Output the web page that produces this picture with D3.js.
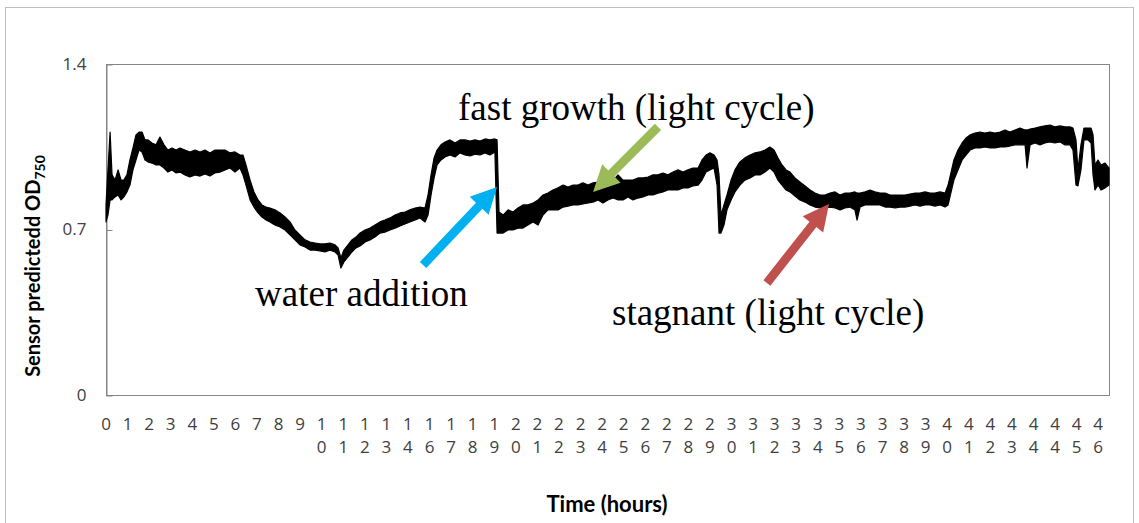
<!DOCTYPE html>
<html>
<head>
<meta charset="utf-8">
<script src="https://cdn.jsdelivr.net/npm/d3@7"></script>
<style>
body { margin: 0; background: #fff; }
svg { display: block; }
</style>
</head>
<body>
<svg id="chart"></svg>
<script>
// category labels under the time axis (as printed, 15 missing, 44 twice)
const xLabels = ["0","1","2","3","4","5","6","7","8","9",
    "10","11","12","13","14","16","17","18","19",
    "20","21","22","23","24","25","26","27","28","29",
    "30","31","32","33","34","35","36","37","38","39",
    "40","41","42","43","44","44","45","46"];
const yTicks = [0, 0.7, 1.4];

const time = [0,0.09,0.19,0.28,0.42,0.56,0.70,0.83,0.97,1.11,
    1.25,1.39,1.53,1.67,1.81,1.95,2.13,2.32,2.50,2.69,
    2.87,3.06,3.25,3.43,3.66,3.89,4.13,4.36,4.59,4.82,
    5.05,5.29,5.52,5.75,5.98,6.21,6.35,6.49,6.68,6.86,
    7.05,7.23,7.42,7.60,7.83,8.07,8.30,8.53,8.76,8.99,
    9.23,9.46,9.69,9.92,10.15,10.38,10.62,10.76,10.89,11.03,
    11.22,11.40,11.59,11.78,12.01,12.24,12.47,12.70,12.93,13.17,
    13.40,13.63,13.86,14.09,14.33,14.56,14.79,14.93,15.07,15.21,
    15.35,15.53,15.72,15.95,16.18,16.41,16.64,16.88,17.11,17.34,
    17.57,17.80,18.03,18.13,18.22,18.41,18.64,18.87,19.10,19.33,
    19.56,19.80,20.03,20.26,20.49,20.72,20.96,21.19,21.42,21.65,
    21.88,22.11,22.35,22.58,22.81,23.04,23.27,23.51,23.74,23.97,
    24.20,24.43,24.66,24.90,25.13,25.36,25.59,25.82,26.05,26.29,
    26.52,26.75,26.98,27.21,27.45,27.63,27.82,28.00,28.19,28.33,
    28.42,28.51,28.65,28.79,28.98,29.16,29.39,29.62,29.86,30.09,
    30.32,30.55,30.78,30.97,31.15,31.34,31.53,31.71,31.94,32.17,
    32.41,32.64,32.87,33.10,33.33,33.57,33.80,34.03,34.26,34.49,
    34.72,34.82,34.96,35.19,35.42,35.65,35.88,36.12,36.35,36.58,
    36.81,37.04,37.27,37.51,37.74,37.97,38.20,38.43,38.67,38.90,
    39.04,39.18,39.31,39.50,39.69,39.87,40.06,40.29,40.52,40.75,
    40.98,41.22,41.45,41.68,41.91,42.14,42.37,42.61,42.70,42.84,
    43.07,43.30,43.53,43.76,43.99,44.23,44.46,44.69,44.83,44.97,
    45.06,45.20,45.34,45.53,45.67,45.76,45.85,45.99,46.13,46.32,46.50];

const odHigh = [0.804,0.952,1.112,0.931,0.909,0.952,0.909,0.909,0.931,0.994,
    1.045,1.100,1.112,1.112,1.079,1.079,1.066,1.058,1.091,1.058,
    1.036,1.045,1.036,1.045,1.036,1.028,1.036,1.028,1.036,1.024,
    1.036,1.036,1.036,1.024,1.028,1.015,1.015,0.973,0.909,0.859,
    0.825,0.804,0.795,0.791,0.783,0.770,0.753,0.732,0.698,0.677,
    0.656,0.647,0.643,0.639,0.639,0.643,0.635,0.622,0.580,0.613,
    0.635,0.656,0.668,0.685,0.698,0.706,0.719,0.732,0.740,0.749,
    0.761,0.770,0.774,0.783,0.791,0.795,0.791,0.846,0.931,1.003,
    1.036,1.058,1.070,1.079,1.066,1.079,1.079,1.074,1.079,1.074,
    1.083,1.079,1.083,1.079,0.774,0.761,0.783,0.774,0.791,0.804,
    0.804,0.812,0.825,0.846,0.854,0.867,0.876,0.888,0.880,0.888,
    0.888,0.897,0.888,0.897,0.901,0.909,0.897,0.909,0.931,0.909,
    0.909,0.909,0.918,0.918,0.922,0.931,0.931,0.939,0.931,0.943,
    0.952,0.943,0.952,0.960,0.960,0.994,1.015,1.024,1.015,0.994,
    0.931,0.761,0.804,0.846,0.909,0.952,0.986,1.003,1.015,1.024,
    1.028,1.036,1.049,1.036,1.003,0.973,0.952,0.943,0.918,0.901,
    0.884,0.867,0.854,0.846,0.846,0.854,0.859,0.846,0.854,0.854,
    0.859,0.854,0.854,0.859,0.867,0.859,0.854,0.854,0.846,0.846,
    0.846,0.846,0.850,0.854,0.854,0.859,0.854,0.854,0.859,0.854,
    0.888,0.943,0.994,1.036,1.066,1.087,1.100,1.108,1.112,1.108,
    1.112,1.108,1.112,1.121,1.112,1.121,1.129,1.121,1.121,1.125,
    1.129,1.134,1.138,1.142,1.134,1.138,1.134,1.134,1.129,1.079,
    0.952,1.058,1.129,1.129,1.129,1.100,0.973,0.994,0.973,0.981,0.960];

const odLow = [0.732,0.761,0.825,0.825,0.838,0.846,0.825,0.838,0.859,0.888,
    0.952,0.994,1.036,1.028,0.994,0.986,0.981,0.973,0.973,0.960,
    0.943,0.952,0.939,0.943,0.931,0.922,0.931,0.926,0.935,0.926,
    0.939,0.943,0.952,0.960,0.943,0.960,0.931,0.888,0.825,0.795,
    0.770,0.753,0.740,0.732,0.719,0.711,0.698,0.677,0.656,0.635,
    0.626,0.613,0.613,0.609,0.605,0.613,0.605,0.592,0.537,0.563,
    0.584,0.605,0.622,0.630,0.647,0.656,0.668,0.685,0.689,0.698,
    0.706,0.715,0.723,0.732,0.740,0.749,0.732,0.761,0.846,0.918,
    0.973,0.994,1.007,1.015,1.007,1.024,1.015,1.011,1.019,1.015,
    1.024,1.015,1.028,0.685,0.685,0.685,0.698,0.698,0.706,0.706,
    0.719,0.732,0.719,0.761,0.783,0.783,0.783,0.795,0.799,0.804,
    0.804,0.808,0.812,0.816,0.825,0.812,0.825,0.833,0.825,0.825,
    0.838,0.825,0.833,0.838,0.846,0.846,0.854,0.859,0.867,0.867,
    0.867,0.876,0.876,0.884,0.888,0.909,0.943,0.952,0.960,0.888,
    0.685,0.685,0.719,0.783,0.825,0.859,0.888,0.909,0.918,0.931,
    0.931,0.943,0.960,0.943,0.909,0.888,0.867,0.859,0.842,0.825,
    0.816,0.804,0.795,0.791,0.791,0.795,0.791,0.783,0.791,0.795,
    0.783,0.740,0.795,0.804,0.804,0.804,0.804,0.795,0.795,0.791,
    0.795,0.795,0.799,0.804,0.799,0.804,0.804,0.799,0.804,0.795,
    0.804,0.859,0.909,0.952,0.994,1.015,1.036,1.045,1.045,1.049,
    1.045,1.045,1.049,1.049,1.053,1.058,1.058,1.058,0.960,1.058,
    1.066,1.058,1.066,1.070,1.066,1.070,1.058,1.058,1.036,0.888,
    0.884,0.952,1.079,1.079,1.066,0.931,0.867,0.888,0.867,0.876,0.888];

// callouts in data units: [time, OD]
const noteText = ["fast growth (light cycle)", "water addition", "stagnant (light cycle)"];
const notePos = [[16.32, 1.163], [6.91, 0.376], [23.46, 0.296]];
const arrowTail = [[25.59, 1.134], [14.70, 0.550], [30.64, 0.474]];
const arrowTip = [[22.58, 0.859], [18.13, 0.880], [33.52, 0.808]];
const arrowColor = ["#9bbb59", "#00b0f0", "#c0504d"];

const W = 1139, H = 523;
const svg = d3.select("#chart").attr("width", W).attr("height", H);

const x = d3.scaleLinear().domain([0, 46.5]).range([106, 1109]);
const y = d3.scaleLinear().domain([0, 1.4]).range([395, 64]);

const sans = "Lato, 'Open Sans', sans-serif";
const tickFont = "'Open Sans', Lato, sans-serif";

// chart frame
svg.append("rect")
    .attr("x", 5.5).attr("y", 7.5)
    .attr("width", 1128).attr("height", 530)
    .style("fill", "none")
    .style("stroke", "#bfbfbf");

// plot area border
svg.append("rect")
    .attr("x", x(0) + 0.5).attr("y", y(1.4) + 0.5)
    .attr("width", x(46.5) - x(0)).attr("height", y(0) - y(1.4))
    .style("fill", "none")
    .style("stroke", "#868686");

const yAxis = svg.append("g")
    .attr("transform", `translate(${x(0) + 0.5},0)`)
    .call(d3.axisLeft(y).tickValues(yTicks).tickFormat(d3.format("")).tickSize(-6).tickPadding(20));
yAxis.select(".domain").attr("stroke", "#868686");
yAxis.selectAll(".tick line").attr("stroke", "#868686").attr("transform", "translate(0,0.5)");
yAxis.selectAll("text")
    .style("font-family", tickFont)
    .style("font-size", "17px")
    .style("fill", "#404040");

// category labels, tens digit above units digit
const labels = svg.append("g")
    .selectAll("text")
    .data(xLabels)
    .join("text")
        .attr("x", (d, i) => x(i))
        .attr("text-anchor", "middle")
        .style("font-family", tickFont)
        .style("font-size", "17px")
        .style("fill", "#404040");
labels.selectAll("tspan")
    .data(d => d.split(""))
    .join("tspan")
        .attr("x", function() { return this.parentNode.getAttribute("x"); })
        .attr("y", (c, j) => 430 + j * 23)
        .text(c => c);

// sensor band
const band = d3.area()
    .x((d, i) => x(time[i]))
    .y0((d, i) => y(odLow[i]))
    .y1((d, i) => y(odHigh[i]));
svg.append("path")
    .datum(time)
    .attr("d", band)
    .style("fill", "black")
    .style("stroke", "black")
    .style("stroke-width", 1.2)
    .style("stroke-linejoin", "round");

// arrows
const arrowPath = (tail, tip) => {
    const [x0, y0] = [x(tail[0]), y(tail[1])];
    const [x1, y1] = [x(tip[0]), y(tip[1])];
    const len = Math.hypot(x1 - x0, y1 - y0);
    const ux = (x1 - x0) / len, uy = (y1 - y0) / len;
    const px = -uy, py = ux;
    const head = 26, half = 13, shaft = 4.4;
    const bx = x1 - ux * head, by = y1 - uy * head;
    const pts = [
        [x0 + px * shaft, y0 + py * shaft],
        [bx + px * shaft, by + py * shaft],
        [bx + px * half, by + py * half],
        [x1, y1],
        [bx - px * half, by - py * half],
        [bx - px * shaft, by - py * shaft],
        [x0 - px * shaft, y0 - py * shaft]
    ];
    return "M" + pts.map(p => p.join(",")).join("L") + "Z";
};
svg.append("g")
    .selectAll("path")
    .data(arrowColor)
    .join("path")
        .attr("d", (d, i) => arrowPath(arrowTail[i], arrowTip[i]))
        .style("fill", d => d);

svg.append("g")
    .selectAll("text")
    .data(noteText)
    .join("text")
        .attr("x", (d, i) => x(notePos[i][0]))
        .attr("y", (d, i) => y(notePos[i][1]))
        .style("font-family", "'Liberation Serif', 'Times New Roman', serif")
        .style("font-size", "37px")
        .style("fill", "black")
        .text(d => d);

// axis titles
svg.append("text")
    .attr("x", 607).attr("y", 512)
    .attr("text-anchor", "middle")
    .style("font-family", sans)
    .style("font-weight", "bold")
    .style("font-size", "22px")
    .style("fill", "black")
    .text("Time (hours)");

const yTitle = svg.append("text")
    .attr("transform", "translate(40,266) rotate(-90)")
    .attr("text-anchor", "middle")
    .style("font-family", sans)
    .style("font-weight", "bold")
    .style("font-size", "20px")
    .style("fill", "black");
yTitle.append("tspan").text("Sensor predictedd OD");
yTitle.append("tspan").attr("dy", 5).style("font-size", "14px").text("750");
</script>
</body>
</html>
